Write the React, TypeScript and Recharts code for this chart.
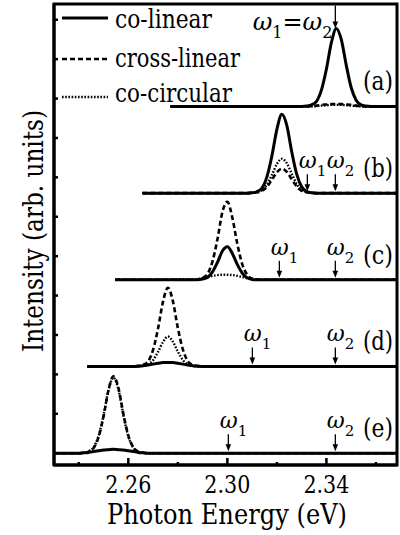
import { ComposedChart, Line, XAxis, YAxis, ReferenceArea, ReferenceDot } from "recharts";

// vertical offsets of traces (a)..(e), in y units (1 unit = one y tick)
const panelLabels = ["(a)", "(b)", "(c)", "(d)", "(e)"];
const baselines = [7.8, 5.6, 3.4, 1.2, -1.0];

// pump energies (eV) marked with arrows
const omega1 = [2.3436, 2.3323, 2.321, 2.3101, 2.3004];
const omega2 = 2.3436;

const xTicks = [2.24, 2.26, 2.28, 2.3, 2.32, 2.34, 2.36];
const xMajor = [2.26, 2.3, 2.34];
const yTicks = [0, 1, 2, 3, 4, 5, 6, 7, 8, 9, 10];

// (a)
const energyA = [2.277, 2.33, 2.332, 2.334, 2.336, 2.338, 2.34, 2.342, 2.344, 2.346, 2.348, 2.35, 2.352, 2.354, 2.356, 2.358, 2.3685];
const coLinearA = [0, 0, 0.01, 0.04, 0.13, 0.42, 0.95, 1.62, 1.98, 1.7, 1.05, 0.48, 0.16, 0.04, 0.01, 0, 0];
const crossLinearA = [0, 0, 0, 0.01, 0.02, 0.04, 0.05, 0.06, 0.06, 0.06, 0.05, 0.04, 0.02, 0.01, 0, 0, 0];
const coCircularA = [0, 0, 0, 0, 0.01, 0.02, 0.03, 0.04, 0.04, 0.04, 0.03, 0.02, 0.01, 0, 0, 0, 0];

// (b)
const energyB = [2.2657, 2.308, 2.31, 2.312, 2.314, 2.316, 2.318, 2.32, 2.322, 2.324, 2.326, 2.328, 2.33, 2.332, 2.334, 2.336, 2.3685];
const coLinearB = [0, 0, 0.01, 0.04, 0.13, 0.42, 0.95, 1.62, 2.0, 1.72, 1.05, 0.48, 0.16, 0.04, 0.01, 0, 0];
const crossLinearB = [0, 0, 0.01, 0.02, 0.06, 0.16, 0.34, 0.53, 0.62, 0.54, 0.35, 0.17, 0.06, 0.02, 0.01, 0, 0];
const coCircularB = [0, 0, 0.01, 0.03, 0.08, 0.22, 0.46, 0.74, 0.87, 0.76, 0.49, 0.23, 0.08, 0.03, 0.01, 0, 0];

// (c)
const energyC = [2.2547, 2.286, 2.288, 2.29, 2.292, 2.294, 2.296, 2.298, 2.3, 2.302, 2.304, 2.306, 2.308, 2.31, 2.312, 2.314, 2.3685];
const coLinearC = [0, 0, 0, 0.02, 0.06, 0.2, 0.44, 0.73, 0.84, 0.67, 0.39, 0.17, 0.05, 0.01, 0, 0, 0];
const crossLinearC = [0, 0, 0.01, 0.05, 0.15, 0.47, 1.03, 1.72, 1.98, 1.58, 0.92, 0.4, 0.13, 0.03, 0.01, 0, 0];
const coCircularC = [0, 0.01, 0.02, 0.04, 0.07, 0.1, 0.12, 0.13, 0.13, 0.12, 0.1, 0.07, 0.04, 0.02, 0.01, 0, 0];

// (d)
const energyD = [2.2434, 2.262, 2.264, 2.266, 2.268, 2.27, 2.272, 2.274, 2.276, 2.278, 2.28, 2.282, 2.284, 2.286, 2.288, 2.29, 2.3685];
const coLinearD = [0, 0, 0.01, 0.02, 0.04, 0.06, 0.08, 0.1, 0.1, 0.1, 0.08, 0.06, 0.04, 0.02, 0.01, 0, 0];
const crossLinearD = [0, 0, 0.01, 0.04, 0.13, 0.42, 0.96, 1.64, 2.0, 1.66, 0.98, 0.44, 0.14, 0.04, 0.01, 0, 0];
const coCircularD = [0, 0, 0, 0.02, 0.05, 0.16, 0.37, 0.62, 0.76, 0.63, 0.38, 0.17, 0.05, 0.02, 0, 0, 0];

// (e)
const energyE = [2.23, 2.24, 2.242, 2.244, 2.246, 2.248, 2.25, 2.252, 2.254, 2.256, 2.258, 2.26, 2.262, 2.264, 2.266, 2.268, 2.3685];
const coLinearE = [0, 0, 0.01, 0.02, 0.04, 0.06, 0.08, 0.09, 0.1, 0.09, 0.08, 0.06, 0.04, 0.02, 0.01, 0, 0];
const crossLinearE = [0, 0, 0.01, 0.04, 0.13, 0.41, 0.93, 1.6, 1.95, 1.66, 1.0, 0.45, 0.15, 0.04, 0.01, 0, 0];
const coCircularE = [0, 0, 0.01, 0.05, 0.15, 0.44, 0.96, 1.6, 1.92, 1.62, 0.96, 0.43, 0.14, 0.04, 0.01, 0, 0];

const panels = [
  { energy: energyA, coLinear: coLinearA, crossLinear: crossLinearA, coCircular: coCircularA },
  { energy: energyB, coLinear: coLinearB, crossLinear: crossLinearB, coCircular: coCircularB },
  { energy: energyC, coLinear: coLinearC, crossLinear: crossLinearC, coCircular: coCircularC },
  { energy: energyD, coLinear: coLinearD, crossLinear: crossLinearD, coCircular: coCircularD },
  { energy: energyE, coLinear: coLinearE, crossLinear: crossLinearE, coCircular: coCircularE },
];

const FONT = "'DejaVu Serif', 'Liberation Serif', serif";
const X_DOMAIN: [number, number] = [2.23, 2.3685];
const Y_DOMAIN: [number, number] = [-1.3, 10.4];

const styles = {
  coLinear: { strokeWidth: 3, strokeDasharray: undefined },
  crossLinear: { strokeWidth: 2.6, strokeDasharray: "5 3" },
  coCircular: { strokeWidth: 2.4, strokeDasharray: "1.6 1.6" },
};

const txt = (size: number, extra: object = {}) => ({ fontFamily: FONT, fontSize: size, fill: "#000", ...extra });

function toRows(energy: number[], values: number[], offset: number) {
  return energy.map((x, i) => ({ x, y: offset + values[i] }));
}

const XTick = (props: any) => {
  const { x, y, payload } = props;
  const v = Number(payload?.value);
  const major = xMajor.some((m) => Math.abs(m - v) < 1e-6);
  const len = major ? 7 : 3;
  return (
    <g>
      <line x1={x} y1={y} x2={x} y2={y - len} stroke="#000" strokeWidth={2.5} />
      {major && (
        <text x={x - 23} y={y + 28} textLength={46} lengthAdjust="spacingAndGlyphs" style={txt(25)}>
          {v.toFixed(2)}
        </text>
      )}
    </g>
  );
};

const YTick = (props: any) => {
  const { x, y } = props;
  return <line x1={x} y1={y} x2={x + 4} y2={y} stroke="#000" strokeWidth={2.5} />;
};

const Arrow = ({ x, y1, y2 }: { x: number; y1: number; y2: number }) => (
  <g>
    <line x1={x} y1={y1} x2={x} y2={y2 - 5} stroke="#000" strokeWidth={1.3} />
    <path d={`M${x - 2.8},${y2 - 7} L${x + 2.8},${y2 - 7} L${x},${y2} Z`} fill="#000" />
  </g>
);

// ω with subscript, arrow pointing down to the trace baseline
const omegaMark = (sub: string) => (props: any) => {
  const { cx, cy } = props;
  return (
    <g>
      <Arrow x={cx} y1={cy - 19} y2={cy - 2} />
      <text x={cx - 8.5} y={cy - 25} style={txt(22)}>
        <tspan fontStyle="italic">ω</tspan>
        <tspan fontSize={15} dy={8}>{sub}</tspan>
      </text>
    </g>
  );
};

const degenerateMark = (props: any) => {
  const { cx, cy } = props;
  return (
    <g>
      <Arrow x={cx} y1={cy - 23} y2={cy} />
      <text x={cx - 3} y={cy + 2} textAnchor="end" style={txt(24)}>
        <tspan fontStyle="italic">ω</tspan>
        <tspan fontSize={16} dy={8}>1</tspan>
        <tspan dy={-8}>=</tspan>
        <tspan fontStyle="italic">ω</tspan>
        <tspan fontSize={16} dy={8}>2</tspan>
      </text>
    </g>
  );
};

const panelMark = (label: string) => (props: any) => {
  const { cx, cy } = props;
  return (
    <text x={cx - 34} y={cy - 16} textLength={30} lengthAdjust="spacingAndGlyphs" style={txt(26)}>
      {label}
    </text>
  );
};

export default function App() {
  return (
    <div style={{ position: "absolute", left: 0, top: 0, width: 400, height: 535, background: "#fff" }}>
      <ComposedChart width={400} height={535} margin={{ top: 4, right: 3, bottom: 0, left: 0 }}>
        <XAxis
          dataKey="x"
          type="number"
          domain={X_DOMAIN}
          allowDataOverflow
          ticks={xTicks}
          height={70}
          tickSize={0}
          tickMargin={0}
          tickLine={false}
          tick={XTick}
          interval={0}
          axisLine={{ stroke: "#000", strokeWidth: 3 }}
        />
        <YAxis
          type="number"
          domain={Y_DOMAIN}
          allowDataOverflow
          ticks={yTicks}
          width={54}
          tickSize={0}
          tickMargin={0}
          tickLine={false}
          tick={YTick}
          interval={0}
          axisLine={{ stroke: "#000", strokeWidth: 3 }}
        />
        <ReferenceArea
          x1={X_DOMAIN[0]}
          x2={X_DOMAIN[1]}
          y1={Y_DOMAIN[0]}
          y2={Y_DOMAIN[1]}
          fill="none"
          stroke="#000"
          strokeWidth={3}
          fillOpacity={0}
        />
        {panels.map((p, i) =>
          (["coCircular", "crossLinear", "coLinear"] as const).map((key) => (
            <Line
              key={`${i}-${key}`}
              data={toRows(p.energy, p[key], baselines[i])}
              dataKey="y"
              type="monotone"
              dot={false}
              activeDot={false}
              stroke="#000"
              strokeWidth={styles[key].strokeWidth}
              strokeDasharray={styles[key].strokeDasharray}
              isAnimationActive={false}
            />
          ))
        )}
        <ReferenceDot x={omega2} y={baselines[0] + 1.98} r={0} shape={degenerateMark} />
        {omega1.slice(1).map((w, i) => (
          <ReferenceDot key={`w1-${i}`} x={w} y={baselines[i + 1]} r={0} shape={omegaMark("1")} />
        ))}
        {baselines.slice(1).map((b, i) => (
          <ReferenceDot key={`w2-${i}`} x={omega2} y={b} r={0} shape={omegaMark("2")} />
        ))}
        {panelLabels.map((label, i) => (
          <ReferenceDot key={label} x={X_DOMAIN[1]} y={baselines[i]} r={0} shape={panelMark(label)} />
        ))}
      </ComposedChart>

      <svg width={400} height={535} style={{ position: "absolute", left: 0, top: 0, pointerEvents: "none" }}>
        {/* legend */}
        <line x1={62} y1={18} x2={108} y2={18} stroke="#000" strokeWidth={3} />
        <line x1={62} y1={59} x2={108} y2={59} stroke="#000" strokeWidth={2.6} strokeDasharray="5 3" />
        <line x1={62} y1={97} x2={108} y2={97} stroke="#000" strokeWidth={2.4} strokeDasharray="1.6 1.6" />
        <text x={115} y={28} textLength={97} lengthAdjust="spacingAndGlyphs" style={txt(26)}>co-linear</text>
        <text x={115} y={67} textLength={125} lengthAdjust="spacingAndGlyphs" style={txt(26)}>cross-linear</text>
        <text x={115} y={102} textLength={117} lengthAdjust="spacingAndGlyphs" style={txt(26)}>co-circular</text>
        {/* axis titles */}
        <text x={107} y={524} textLength={240} lengthAdjust="spacingAndGlyphs" style={txt(28)}>
          Photon Energy (eV)
        </text>
        <text
          x={0}
          y={0}
          transform="translate(43,352) rotate(-90)"
          textLength={242}
          lengthAdjust="spacingAndGlyphs"
          style={txt(28)}
        >
          Intensity (arb. units)
        </text>
      </svg>
    </div>
  );
}
